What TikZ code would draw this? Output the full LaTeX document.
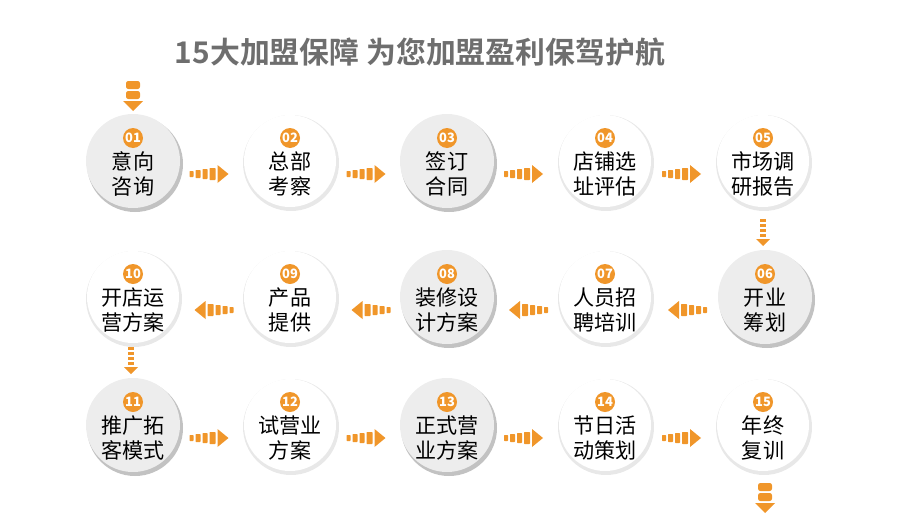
\documentclass[tikz,border=0pt]{standalone}
\usepackage{fontspec}
\setmainfont{Noto Sans CJK SC}
\newfontfamily\titlefont{Noto Sans CJK SC Bold}
\usetikzlibrary{calc}
\definecolor{org}{HTML}{F0962A}
\definecolor{ttl}{HTML}{6E6E6E}
\tikzset{
  x=0.03cm,y=-0.03cm,
  lbl/.style={font=\fontsize{18}{21}\selectfont,align=center,text=black,inner sep=0},
  badge/.style={circle,fill=org,minimum size=0.6cm,inner sep=0,text=white,font=\bfseries\itshape\fontsize{11}{11}\selectfont},
  pics/harr/.style={code={
    \fill[org,rounded corners=0.5pt] (-22,-3) rectangle (-18,3);
    \fill[org,rounded corners=0.5pt] (-16,-4) rectangle (-11,4);
    \fill[org,rounded corners=0.5pt] (-9,-5) rectangle (-4,5);
    \fill[org,rounded corners=0.5pt] (-2,-6) rectangle (4,6);
    \fill[org] (6,-9) -- (17,0) -- (6,9) -- cycle;}},
  pics/varr/.style={code={
    \fill[org] (-3,-14) rectangle (3,-11);
    \fill[org] (-3,-9) rectangle (3,-6);
    \fill[org] (-3,-4) rectangle (3,-1);
    \fill[org] (-3,1) rectangle (3,4);
    \fill[org] (-7,6) -- (7,6) -- (0,13) -- cycle;}},
  pics/bigarr/.style={code={
    \fill[org,rounded corners=2pt] (-7,-15) rectangle (7,-7);
    \fill[org,rounded corners=2pt] (-7,-5) rectangle (7,3);
    \fill[org] (-10,5) -- (10,5) -- (0,15) -- cycle;}}
}
\newcommand\stepgray[4]{%
  \fill[black!24] (#1+2,#2+3) circle (48);
  \fill[black!7] (#1,#2) circle (47);
  \node[lbl] (#3) at (#1,#2+13) {#4};}
\newcommand\stepwhite[4]{%
  \fill[black!9] (#1+1,#2+2) circle (48);
  \fill[white] (#1,#2) circle (46);
  \node[lbl] (#3) at (#1,#2+13) {#4};}
\newcommand\bdg[4]{\node[badge] (#3) at (#1,#2-23) {#4};}
\begin{document}
\begin{tikzpicture}
\useasboundingbox (0,0) rectangle (900,531);
\node[font=\titlefont\fontsize{25.5}{26}\selectfont,text=ttl] (title) at (420,52) {15大加盟保障 为您加盟盈利保驾护航};
% row 1
\stepgray{133}{161}{s1}{意向\\咨询}
\stepwhite{290}{161}{s2}{总部\\考察}
\stepgray{447}{161}{s3}{签订\\合同}
\stepwhite{605}{161}{s4}{店铺选\\址评估}
\stepwhite{763}{161}{s5}{市场调\\研报告}
% row 2
\stepgray{765}{297}{s6}{开业\\筹划}
\stepwhite{605}{297}{s7}{人员招\\聘培训}
\stepgray{447}{297}{s8}{装修设\\计方案}
\stepwhite{290}{297}{s9}{产品\\提供}
\stepwhite{133}{297}{s10}{开店运\\营方案}
% row 3
\stepgray{133}{425}{s11}{推广拓\\客模式}
\stepwhite{290}{425}{s12}{试营业\\方案}
\stepgray{447}{425}{s13}{正式营\\业方案}
\stepwhite{605}{425}{s14}{节日活\\动策划}
\stepwhite{763}{425}{s15}{年终\\复训}
\bdg{133}{161}{b1}{01}\bdg{290}{161}{b2}{02}\bdg{447}{161}{b3}{03}\bdg{605}{161}{b4}{04}\bdg{763}{161}{b5}{05}
\bdg{765}{297}{b6}{06}\bdg{605}{297}{b7}{07}\bdg{447}{297}{b8}{08}\bdg{290}{297}{b9}{09}\bdg{133}{297}{b10}{10}
\bdg{133}{425}{b11}{11}\bdg{290}{425}{b12}{12}\bdg{447}{425}{b13}{13}\bdg{605}{425}{b14}{14}\bdg{763}{425}{b15}{15}
% arrows
\pic at (133,96) {bigarr};
\pic at ($(s1)!0.5!(s2)$) {harr};
\pic at ($(s2)!0.5!(s3)$) {harr};
\pic at ($(s3)!0.5!(s4)$) {harr};
\pic at ($(s4)!0.5!(s5)$) {harr};
\pic at (763,233) {varr};
\pic[rotate=180] at ($(s6)!0.5!(s7)$) {harr};
\pic[rotate=180] at ($(s7)!0.5!(s8)$) {harr};
\pic[rotate=180] at ($(s8)!0.5!(s9)$) {harr};
\pic[rotate=180] at ($(s9)!0.5!(s10)$) {harr};
\pic at (131,361) {varr};
\pic at ($(s11)!0.5!(s12)$) {harr};
\pic at ($(s12)!0.5!(s13)$) {harr};
\pic at ($(s13)!0.5!(s14)$) {harr};
\pic at ($(s14)!0.5!(s15)$) {harr};
\pic at (765,498) {bigarr};
\end{tikzpicture}
\end{document}
